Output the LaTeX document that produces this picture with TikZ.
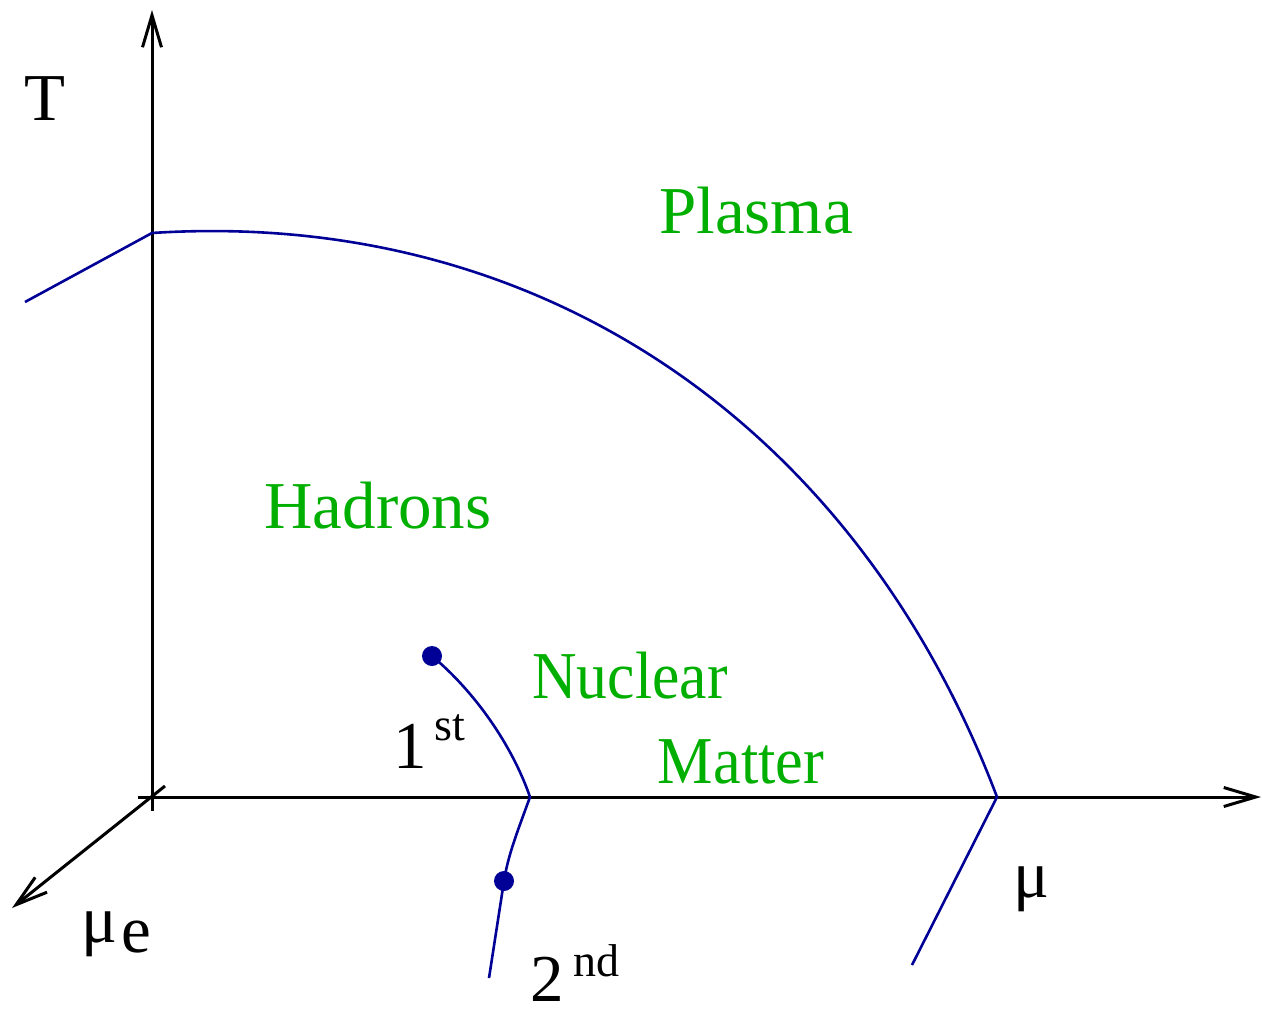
\documentclass[tikz,border=0pt]{standalone}
\usepackage{fontspec}
\setmainfont{Liberation Serif}
\usetikzlibrary{arrows.meta}
\definecolor{phaseblue}{RGB}{0,0,150}
\definecolor{phasegreen}{RGB}{0,175,0}
\begin{document}
\begin{tikzpicture}[
    x=0.5pt, y=-0.5pt,
    axis/.style={draw, line width=1.5pt, -{Straight Barb[length=16pt, width=9.5pt]}},
    phase/.style={draw=phaseblue, line width=1.3pt},
    dot/.style={circle, fill=phaseblue, inner sep=0pt, minimum size=10pt},
    region/.style={text=phasegreen, font=\fontsize{33.5}{40}\selectfont, anchor=base, inner sep=0pt},
    tag/.style={font=\fontsize{33.5}{40}\selectfont, anchor=base west, inner sep=0pt}
]
    \useasboundingbox (0,0) rectangle (1262,1011);

    \coordinate (origin) at (152,797);
    \coordinate (tbottom) at (152,811);
    \coordinate (ttop) at (152,10);
    \coordinate (muleft) at (138,797);
    \coordinate (muright) at (1261,797);
    \coordinate (mueback) at (165,786);
    \coordinate (muefront) at (12,908);

    \draw [axis] (tbottom) -- (ttop);
    \draw [axis] (muleft) -- (muright);
    \draw [axis] (mueback) -- (muefront);

    \coordinate (tcrit) at (152,233);
    \coordinate (tleft) at (25,302);
    \coordinate (mucrit) at (997,797);
    \coordinate (mulow) at (912,965);
    \coordinate (firstend) at (530,797);
    \coordinate (secondend) at (489,978);
    \node [dot] (firstdot) at (432,656) {};
    \node [dot] (seconddot) at (504,881) {};

    \draw [phase] (tleft) -- (tcrit) .. controls (540,208) and (856,425) .. (mucrit) -- (mulow);
    \draw [phase] (firstdot.center) .. controls (475,692) and (512,745) .. (firstend)
        .. controls (518,830) and (508,855) .. (seconddot.center) -- (secondend);

    \node [tag, anchor=base] (tlabel) at (45,120) {T};
    \node [tag] (mulabel) at (1013,897) {μ};
    \node [tag] (muelabel) at (81,942) {μ\hspace{2pt}\raisebox{-5pt}{e}};
    \node [tag] (firstlabel) at (393,768) {1\hspace{4pt}\raisebox{14pt}{\fontsize{23}{24}\selectfont st}};
    \node [tag] (secondlabel) at (530,1001) {2\hspace{5pt}\raisebox{12.5pt}{\fontsize{23}{24}\selectfont nd}};

    \node [region] (plasma) at (756,233) {Plasma};
    \node [region] (hadrons) at (378,528) {Hadrons};
    \node [region] (nuclear) at (630,698) {\scalebox{0.92}[1]{Nuclear}};
    \node [region] (matter) at (741,783) {\scalebox{0.93}[1]{Matter}};
\end{tikzpicture}
\end{document}
